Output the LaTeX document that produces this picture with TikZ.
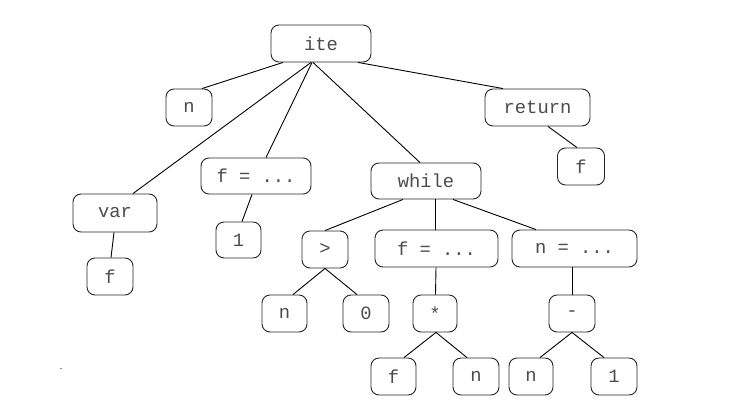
\documentclass[tikz,border=0pt]{standalone}
\usepackage{fontspec}
\setmonofont{Liberation Mono}
\begin{document}
\begin{tikzpicture}[x=1pt,y=-1pt,
  ast/.style={draw=black!85, line width=0.9pt, rounded corners=8pt,
    minimum height=37pt, inner sep=0pt, text=black!70,
    font=\ttfamily\fontsize{18.8}{20}\selectfont},
  edge/.style={draw=black, line width=0.9pt}]
\useasboundingbox (0,0) rectangle (733,407);
\fill[white] (0,0) rectangle (733,407);

% tree nodes (centre x, centre y)
\node[ast, minimum width=100pt] (ite) at (321,43.5) {ite};
\node[ast, minimum width=46pt]  (n1) at (189,107.5) {n};
\node[ast, minimum width=105pt] (ret) at (537.5,107.5) {return};
\node[ast, minimum width=47pt]  (fr) at (581,166.5) {f};
\node[ast, minimum width=110pt, minimum height=36pt] (fa1) at (256,176) {f = ...};
\node[ast, minimum width=110pt, minimum height=36pt] (wh) at (426,181) {while};
\node[ast, minimum width=84pt, minimum height=38pt] (var) at (115,213) {var};
\node[ast, minimum width=46pt]  (fv) at (110,276.5) {f};
\node[ast, minimum width=45pt, minimum height=36pt] (one1) at (238.5,240) {1};
\node[ast, minimum width=46pt]  (gt) at (325,249.5) {>};
\node[ast, minimum width=123pt] (fa2) at (436.5,248.5) {f = ...};
\node[ast, minimum width=125pt] (na) at (574.5,248.5) {n = ...};
\node[ast, minimum width=45pt]  (n2) at (284.5,313.5) {n};
\node[ast, minimum width=46pt]  (zero) at (366,313.5) {0};
\node[ast, minimum width=44pt]  (star) at (435,313.5) {*};
\node[ast, minimum width=46pt]  (minus) at (572,313.5) {-};
\node[ast, minimum width=45pt]  (f3) at (393.5,376.5) {f};
\node[ast, minimum width=46pt]  (n3) at (476,376.5) {n};
\node[ast, minimum width=44pt]  (n4) at (531,376.5) {n};
\node[ast, minimum width=46pt]  (one2) at (614,376.5) {1};

% edges
\draw[edge] ([xshift=-38pt]ite.south) -- ([xshift=13pt]n1.north);
\draw[edge] ([xshift=-10pt]ite.south) -- ([xshift=18pt]var.north);
\draw[edge] ([xshift=-9pt]ite.south) -- ([xshift=10pt]fa1.north);
\draw[edge] ([xshift=-8pt]ite.south) -- ([xshift=-6pt]wh.north);
\draw[edge] ([xshift=37pt]ite.south) -- ([xshift=-34.5pt]ret.north);
\draw[edge] ([xshift=10.5pt]ret.south) -- ([xshift=-4pt]fr.north);
\draw[edge] ([xshift=-1pt]var.south) -- ([xshift=1pt]fv.north);
\draw[edge] ([xshift=-4pt]fa1.south) -- ([xshift=3.5pt]one1.north);
\draw[edge] ([xshift=-23pt]wh.south) -- (gt.north);
\draw[edge] ([xshift=9pt]wh.south) -- ([xshift=-1.5pt]fa2.north);
\draw[edge] ([xshift=27pt]wh.south) -- ([xshift=-38.5pt]na.north);
\draw[edge] ([xshift=-0.5pt]fa2.south) -- ([xshift=0.5pt]star.north);
\draw[edge] ([xshift=-2.5pt]na.south) -- (minus.north);
\draw[edge] (gt.south) -- ([xshift=8.5pt]n2.north);
\draw[edge] (gt.south) -- ([xshift=-9pt]zero.north);
\draw[edge] ([xshift=1pt]star.south) -- ([xshift=10.5pt]f3.north);
\draw[edge] ([xshift=1pt]star.south) -- ([xshift=-9pt]n3.north);
\draw[edge] (minus.south) -- ([xshift=9pt]n4.north);
\draw[edge] (minus.south) -- ([xshift=-10pt]one2.north);

% stray speck near the lower left
\fill[black!45] (59.5,368) rectangle (61.5,369);
\end{tikzpicture}
\end{document}
